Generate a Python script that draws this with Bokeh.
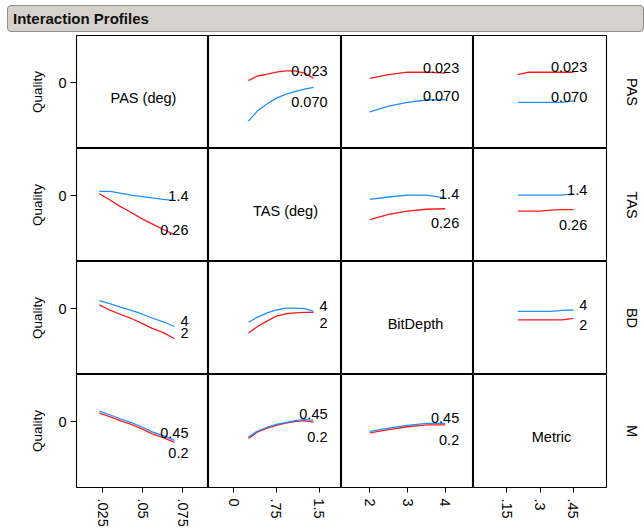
from bokeh.plotting import figure
from bokeh.layouts import gridplot, column
from bokeh.models import FixedTicker, LinearAxis, Div, Range1d
from bokeh.core.properties import value
from bokeh.embed import file_html
from bokeh.resources import INLINE

# ---------------- data ----------------
VARS = ["PAS", "TAS", "BD", "M"]
DIAG_NAMES = ["PAS (deg)", "TAS (deg)", "BitDepth", "Metric"]
SIDE_LABELS = ["PAS", "TAS", "BD", "M"]
Y_LABEL = "Quality"
TITLE = "Interaction Profiles"

# levels of each factor: [low (red), high (blue)]
PAS_LEVELS = ["0.023", "0.070"]
TAS_LEVELS = ["0.26", "1.4"]
BD_LEVELS = ["2", "4"]
M_LEVELS = ["0.2", "0.45"]

# x grids of each factor
PAS_X = [0.023, 0.030, 0.036, 0.043, 0.050, 0.056, 0.063, 0.070]
TAS_X = [0.26, 0.42, 0.59, 0.75, 0.91, 1.07, 1.24, 1.40]
BD_X = [2, 2.5, 3, 3.5, 4]
M_X = [0.2, 0.25, 0.3, 0.35, 0.4, 0.45]

# tick values / labels
PAS_TICKS = [0.025, 0.05, 0.075]
PAS_TICK_LABELS = [".025", ".05", ".075"]
TAS_TICKS = [0, 0.75, 1.5]
TAS_TICK_LABELS = ["0", ".75", "1.5"]
BD_TICKS = [2, 3, 4]
BD_TICK_LABELS = ["2", "3", "4"]
M_TICKS = [0.15, 0.3, 0.45]
M_TICK_LABELS = [".15", ".3", ".45"]

# row PAS (red = 0.023, blue = 0.070)
PAS_by_TAS_lo = [0.04, 0.14, 0.18, 0.22, 0.25, 0.25, 0.20, 0.09]
PAS_by_TAS_hi = [-0.82, -0.60, -0.45, -0.33, -0.25, -0.19, -0.14, -0.10]
PAS_by_BD_lo = [0.09, 0.17, 0.22, 0.22, 0.20]
PAS_by_BD_hi = [-0.62, -0.50, -0.42, -0.37, -0.36]
PAS_by_M_lo = [0.17, 0.22, 0.22, 0.22, 0.22, 0.22]
PAS_by_M_hi = [-0.42, -0.42, -0.42, -0.42, -0.42, -0.39]
# row TAS (red = 0.26, blue = 1.4)
TAS_by_PAS_lo = [0.04, -0.10, -0.23, -0.36, -0.50, -0.60, -0.72, -0.83]
TAS_by_PAS_hi = [0.09, 0.09, 0.05, 0.01, -0.02, -0.05, -0.08, -0.10]
TAS_by_BD_lo = [-0.51, -0.40, -0.33, -0.29, -0.28]
TAS_by_BD_hi = [-0.08, -0.03, 0.01, 0.01, -0.05]
TAS_by_M_lo = [-0.33, -0.33, -0.33, -0.31, -0.30, -0.30]
TAS_by_M_hi = [0.01, 0.01, 0.01, 0.01, 0.01, 0.04]
# row BD (red = 2, blue = 4)
BD_by_PAS_lo = [0.08, -0.04, -0.12, -0.21, -0.32, -0.42, -0.51, -0.64]
BD_by_PAS_hi = [0.17, 0.10, 0.03, -0.04, -0.12, -0.20, -0.28, -0.38]
BD_by_TAS_lo = [-0.52, -0.38, -0.26, -0.16, -0.11, -0.09, -0.08, -0.08]
BD_by_TAS_hi = [-0.29, -0.18, -0.09, -0.03, 0.01, 0.01, 0.00, -0.06]
BD_by_M_lo = [-0.24, -0.24, -0.24, -0.24, -0.24, -0.21]
BD_by_M_hi = [-0.06, -0.06, -0.06, -0.06, -0.04, -0.03]
# row M (red = 0.2, blue = 0.45)
M_by_PAS_lo = [0.18, 0.10, 0.02, -0.06, -0.16, -0.26, -0.34, -0.44]
M_by_PAS_hi = [0.22, 0.14, 0.06, -0.02, -0.12, -0.22, -0.30, -0.40]
M_by_TAS_lo = [-0.36, -0.22, -0.14, -0.08, -0.03, 0.00, 0.02, -0.01]
M_by_TAS_hi = [-0.33, -0.20, -0.12, -0.06, -0.02, 0.02, 0.04, 0.03]
M_by_BD_lo = [-0.24, -0.17, -0.11, -0.07, -0.07]
M_by_BD_hi = [-0.21, -0.14, -0.08, -0.04, -0.04]

X_GRID = {"PAS": PAS_X, "TAS": TAS_X, "BD": BD_X, "M": M_X}
LEVELS = {"PAS": PAS_LEVELS, "TAS": TAS_LEVELS, "BD": BD_LEVELS, "M": M_LEVELS}
TICKS = {"PAS": (PAS_TICKS, PAS_TICK_LABELS), "TAS": (TAS_TICKS, TAS_TICK_LABELS),
         "BD": (BD_TICKS, BD_TICK_LABELS), "M": (M_TICKS, M_TICK_LABELS)}
CURVES = {
    ("PAS", "TAS"): (PAS_by_TAS_lo, PAS_by_TAS_hi),
    ("PAS", "BD"): (PAS_by_BD_lo, PAS_by_BD_hi),
    ("PAS", "M"): (PAS_by_M_lo, PAS_by_M_hi),
    ("TAS", "PAS"): (TAS_by_PAS_lo, TAS_by_PAS_hi),
    ("TAS", "BD"): (TAS_by_BD_lo, TAS_by_BD_hi),
    ("TAS", "M"): (TAS_by_M_lo, TAS_by_M_hi),
    ("BD", "PAS"): (BD_by_PAS_lo, BD_by_PAS_hi),
    ("BD", "TAS"): (BD_by_TAS_lo, BD_by_TAS_hi),
    ("BD", "M"): (BD_by_M_lo, BD_by_M_hi),
    ("M", "PAS"): (M_by_PAS_lo, M_by_PAS_hi),
    ("M", "TAS"): (M_by_TAS_lo, M_by_TAS_hi),
    ("M", "BD"): (M_by_BD_lo, M_by_BD_hi),
}

# ---------------- layout / style ----------------
FONT = "Liberation Sans"
RED = "#ff1a1a"
BLUE = "#1e8fff"
X_RANGES = {"PAS": (0.00875, 0.09125), "TAS": (-0.44, 1.89), "BD": (1.25, 4.75), "M": (0.0, 0.6)}
Y_RANGE = (-1.4, 1.0)
FRAME_W = [132, 133, 132, 133]
FRAME_H = 113
DIAG_X_PX = [67, 77, 74, 78]
DIAG_Y_PX = 62.5
# label centres (y, data units) of the level labels: (low/red, high/blue)
LABEL_Y = {
    ("PAS", "TAS"): (0.255, -0.404), ("PAS", "BD"): (0.312, -0.276), ("PAS", "M"): (0.34, -0.297),
    ("TAS", "PAS"): (-0.722, -0.014), ("TAS", "BD"): (-0.574, 0.042), ("TAS", "M"): (-0.616, 0.112),
    ("BD", "PAS"): (-0.524, -0.261), ("BD", "TAS"): (-0.297, 0.057), ("BD", "M"): (-0.346, 0.078),
    ("M", "PAS"): (-0.665, -0.24), ("M", "TAS"): (-0.325, 0.155), ("M", "BD"): (-0.382, 0.085),
}

rows = []
for i, rv in enumerate(VARS):
    row = []
    for j, cv in enumerate(VARS):
        x0, x1 = X_RANGES[cv]
        p = figure(frame_width=FRAME_W[j], frame_height=FRAME_H,
                   x_range=Range1d(x0, x1), y_range=Range1d(*Y_RANGE),
                   x_axis_location=None, y_axis_location=None,
                   output_backend="svg", toolbar_location=None, min_border=0)
        p.xgrid.visible = False
        p.ygrid.visible = False
        p.outline_line_color = "black"
        p.outline_line_width = 1.1
        p.outline_line_alpha = 1
        p.background_fill_color = "white"
        p.border_fill_color = "white"

        if i == j:
            xc = x0 + DIAG_X_PX[j] / FRAME_W[j] * (x1 - x0)
            yc = Y_RANGE[1] - DIAG_Y_PX / FRAME_H * (Y_RANGE[1] - Y_RANGE[0])
            p.text(x=[xc], y=[yc], text=[DIAG_NAMES[i]], text_align="center",
                   text_baseline="middle", text_font=value(FONT),
                   text_font_size="14.5px", text_color="black")
        else:
            lo, hi = CURVES[(rv, cv)]
            xs = X_GRID[cv]
            p.line(xs, lo, line_color=RED, line_width=1.3)
            p.line(xs, hi, line_color=BLUE, line_width=1.3)
            ly_lo, ly_hi = LABEL_Y[(rv, cv)]
            p.text(x=[xs[-1], xs[-1]], y=[ly_lo, ly_hi], text=LEVELS[rv],
                   text_align="right", text_baseline="middle", x_offset=14,
                   text_font=value(FONT), text_font_size="14.5px", text_color="black")

        if j == 0:
            ax = LinearAxis(ticker=FixedTicker(ticks=[0]), axis_label=Y_LABEL,
                            axis_line_color=None, major_tick_out=6, major_tick_in=0,
                            major_tick_line_color="black", major_tick_line_width=1,
                            minor_tick_line_color=None,
                            major_label_text_font=FONT, major_label_text_font_size="14.5px",
                            major_label_text_color="black", major_label_standoff=4,
                            axis_label_text_font=FONT, axis_label_text_font_size="13.5px",
                            axis_label_text_font_style="normal", axis_label_text_color="black",
                            axis_label_standoff=10)
            p.add_layout(ax, "left")
            p.min_border_left = 76
        if j == 3:
            ax = LinearAxis(ticker=FixedTicker(ticks=[]), axis_label=SIDE_LABELS[i],
                            axis_line_color=None, major_tick_line_color=None,
                            minor_tick_line_color=None,
                            axis_label_text_font=FONT, axis_label_text_font_size="14.5px",
                            axis_label_text_font_style="normal", axis_label_text_color="black",
                            axis_label_standoff=17)
            p.add_layout(ax, "right")
            p.min_border_right = 32
        if i == 3:
            tv, tl = TICKS[cv]
            ax = LinearAxis(ticker=FixedTicker(ticks=tv),
                            major_label_overrides={t: l for t, l in zip(tv, tl)},
                            major_label_orientation="vertical",
                            axis_line_color=None, major_tick_out=5, major_tick_in=0,
                            major_tick_line_color="black", minor_tick_line_color=None,
                            major_label_text_font=FONT, major_label_text_font_size="14.5px",
                            major_label_text_color="black", major_label_standoff=6)
            p.add_layout(ax, "below")
            p.min_border_bottom = 37
        row.append(p)
    rows.append(row)

grid = gridplot(rows, toolbar_location=None)

header = Div(text=TITLE, width=637, height=27, margin=(5, 0, 0, 7),
             styles={"background-color": "#d5d2cb", "border": "1px solid #8f8f8f",
                     "border-radius": "4px", "box-sizing": "border-box",
                     "font-family": "'Liberation Sans', Arial, sans-serif",
                     "font-weight": "bold", "font-size": "15px", "color": "#111",
                     "padding-left": "5px", "line-height": "25px"})

layout = column(header, grid, spacing=3)

open("out.html", "w").write(file_html(layout, INLINE))
